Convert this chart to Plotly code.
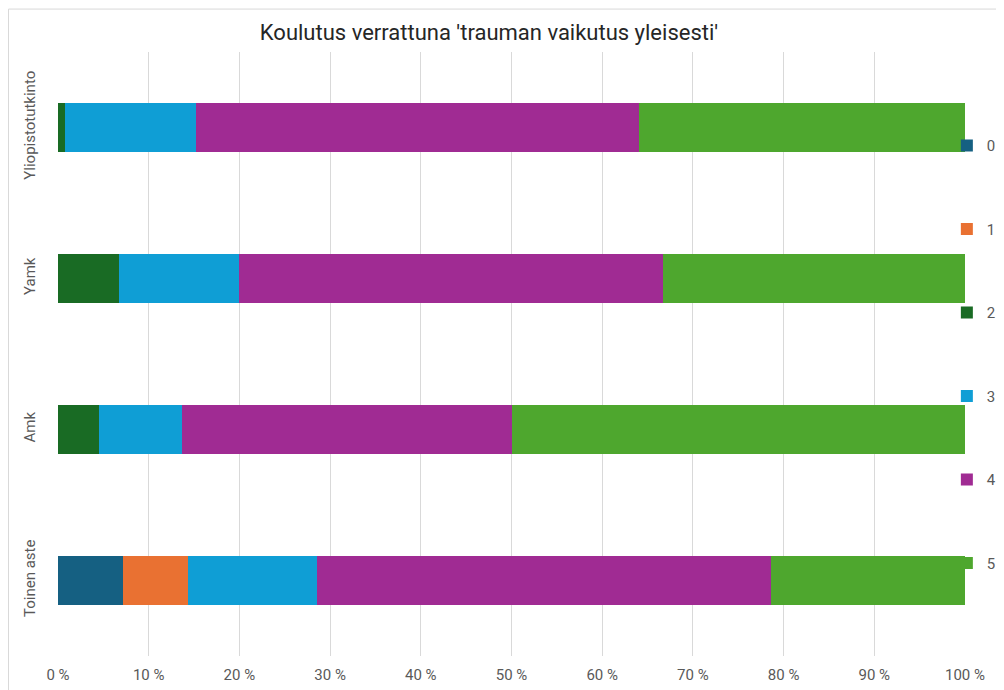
import plotly.graph_objects as go

# the page puts the plot 8px in from the top-left corner, so the figure is
# laid out in reference pixels minus that offset
OFF = 8
W, H = 1004 - OFF, 690 - OFF

categories = ["Toinen aste", "Amk", "Yamk", "Yliopistotutkinto"]
series_names = ["0", "1", "2", "3", "4", "5"]
colors = ["#156082", "#E97132", "#196B24", "#0F9ED5", "#A02B93", "#4EA72E"]

# share of responses (%) per education level, bottom to top
v0 = [7.14, 0, 0, 0]
v1 = [7.14, 0, 0, 0]
v2 = [0, 4.55, 6.67, 0.8]
v3 = [14.29, 9.09, 13.33, 14.4]
v4 = [50.0, 36.36, 46.67, 48.9]
v5 = [21.43, 50.0, 33.33, 35.9]
values = [v0, v1, v2, v3, v4, v5]

x_ticks = [0, 10, 20, 30, 40, 50, 60, 70, 80, 90, 100]
x_ticklabels = [f"{t} %" for t in x_ticks]

FONT = "Liberation Sans Narrow, Roboto, sans-serif"
GREY = "#595959"

fig = go.Figure()
for name, vals, col in zip(series_names, values, colors):
    fig.add_trace(go.Bar(
        y=categories, x=vals, name=name, orientation="h",
        marker=dict(color=col, line=dict(width=0)),
        legendgroup=name,
    ))

m_l, m_r, m_t, m_b = 58 - OFF, 39, 51.5 - OFF, 33.5
fig.update_layout(
    width=W, height=H,
    barmode="stack", bargap=0.68,
    plot_bgcolor="white", paper_bgcolor="white",
    margin=dict(l=m_l, r=m_r, t=m_t, b=m_b, autoexpand=False),
    font=dict(family=FONT, size=14, color=GREY),
    title=dict(
        text="Koulutus verrattuna 'trauman vaikutus yleisesti'",
        x=481 / W, xanchor="center", xref="container",
        y=1 - 24 / H, yanchor="middle", yref="container",
        font=dict(family=FONT, size=22, color="#262626"),
    ),
    legend=dict(
        x=0.980, xanchor="left", y=0.872, yanchor="top",
        traceorder="grouped", tracegroupgap=61,
        font=dict(family=FONT, size=15, color=GREY),
        itemwidth=30, bgcolor="rgba(0,0,0,0)",
    ),
)
fig.update_xaxes(
    range=[0, 100], tickvals=x_ticks, ticktext=x_ticklabels,
    showgrid=True, gridcolor="#D9D9D9", gridwidth=1,
    zeroline=False, showline=False, ticks="",
    tickfont=dict(family=FONT, size=15, color=GREY),
    ticklabelstandoff=8, fixedrange=True,
)
fig.update_yaxes(
    categoryorder="array", categoryarray=categories,
    tickangle=-90, showgrid=False, zeroline=False, showline=False, ticks="",
    tickfont=dict(family=FONT, size=15, color=GREY),
    ticklabelstandoff=19,
)

# chart area border
pw = W - m_l - m_r
ph = H - m_t - m_b
fig.add_shape(
    type="rect", xref="paper", yref="paper",
    x0=(0.5 - m_l) / pw, x1=(992 - m_l) / pw,
    y0=-(m_b + 20) / ph, y1=1 + (m_t - 0.5) / ph,
    line=dict(color="#D9D9D9", width=1), layer="below",
)

fig.write_html("out.html")
